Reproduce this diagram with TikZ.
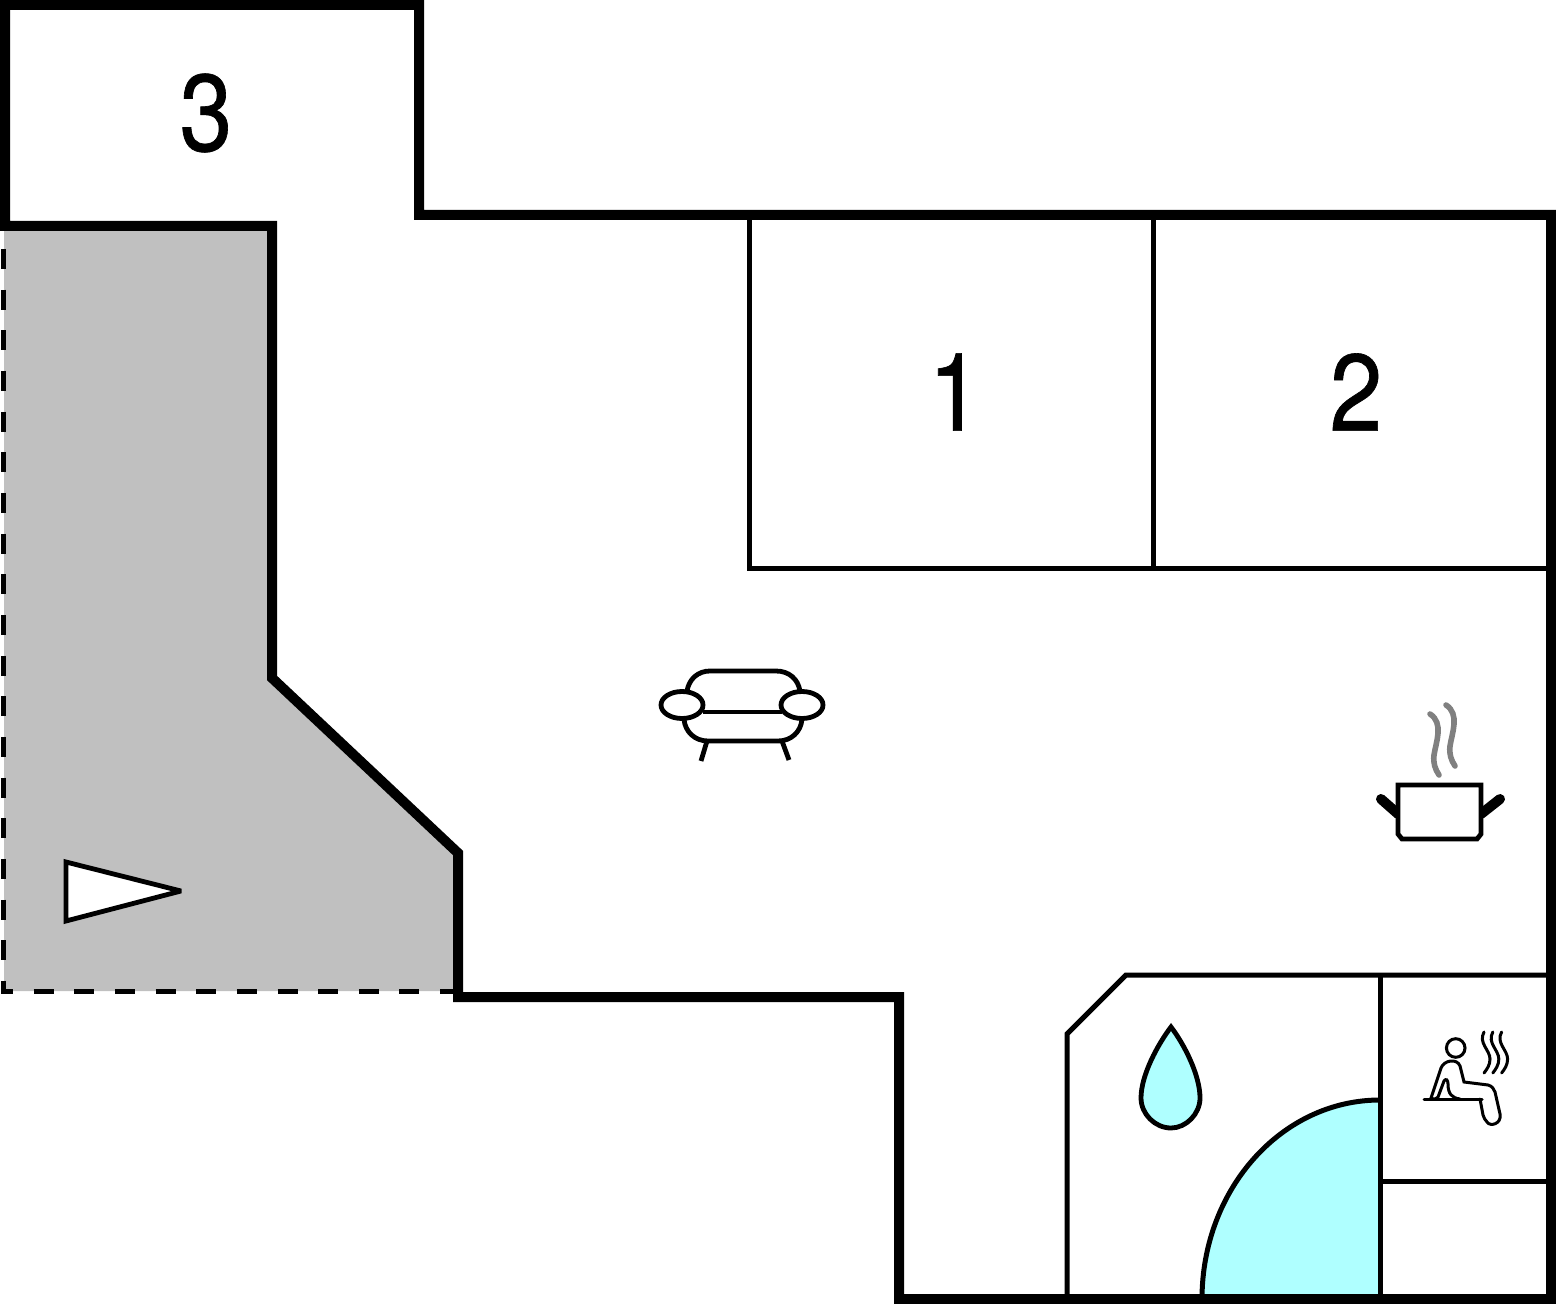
\documentclass[tikz,border=0pt]{standalone}
\usepackage{fontspec}
\setmainfont[FakeStretch=0.87, FakeBold=0.6]{TeX Gyre Heros}
\usepackage{xcolor}
\usetikzlibrary{positioning}
\definecolor{floorgray}{HTML}{C0C0C0}
\definecolor{watercyan}{HTML}{AFFFFF}
\definecolor{steamgray}{HTML}{808080}

\begin{document}
\begin{tikzpicture}[x=0.5pt, y=-0.5pt, line join=miter,
    outerwall/.style={line width=5pt},
    innerwall/.style={line width=2.5pt},
    icon/.style={line width=2.4pt},
    fineicon/.style={line width=1.5pt, line cap=round},
    steam/.style={line width=2.8pt, color=steamgray, line cap=round},
    roomnum/.style={font=\fontsize{54.5}{60}\selectfont, inner sep=0pt}]
  \useasboundingbox (0,0) rectangle (1556,1304);

  % terrace
  \fill[floorgray] (4,226) -- (272,226) -- (272,678) -- (458,853) -- (458,991) -- (4,991) -- cycle;
  \draw[line width=2.5pt, dash pattern=on 10pt off 10.33pt] (3,249) -- (3,991) -- (460,991);

  % bathroom water
  \fill[watercyan] (1202,1299) arc[start angle=180, end angle=270, x radius=178, y radius=199] -- (1380,1299) -- cycle;

  % inner walls
  \draw[innerwall] (749,215) -- (749,568) -- (1551,568);
  \draw[innerwall] (1153,215) -- (1153,568);
  \draw[innerwall] (1067,1299) -- (1067,1034) -- (1126,975) -- (1551,975);
  \draw[innerwall] (1380,975) -- (1380,1299);
  \draw[innerwall] (1202,1299) arc[start angle=180, end angle=270, x radius=178, y radius=199];
  \draw[innerwall] (1380,1181) -- (1551,1181);

  % outer wall
  \draw[outerwall] (5,5) -- (419,5) -- (419,215) -- (1551,215) -- (1551,1299) -- (899,1299)
    -- (899,997) -- (458,997) -- (458,853) -- (272,678) -- (272,226) -- (5,226) -- cycle;

  % room numbers
  \node[roomnum] (roomA) at (955,392) {1};
  \node[roomnum] (roomB) at (1356,392) {2};
  \node[roomnum] (roomC) at (206,113) {3};

  % entrance
  \draw[icon, fill=white, miter limit=3] (66,862) -- (181,891) -- (66,921) -- cycle;

  % sofa
  \draw[icon] (687,691) .. controls (689,679) and (698,671) .. (710,671) -- (776,671)
    .. controls (789,671) and (798,679) .. (800,691);
  \draw[icon] (684,719) .. controls (685,732) and (695,741) .. (708,741) -- (778,741)
    .. controls (791,741) and (801,732) .. (802,719);
  \draw[icon] (703,712) -- (782,712);
  \draw[icon] (707,741) -- (701,761);
  \draw[icon] (782,741) -- (789,760);
  \draw[icon] (682,705) ellipse[x radius=21, y radius=13.5];
  \draw[icon] (802,705) ellipse[x radius=21, y radius=13.5];

  % kitchen
  \draw[steam] (1430,714) .. controls (1444,723) and (1436,742) .. (1434,755) .. controls (1433,763) and (1435,769) .. (1439,775);
  \draw[steam] (1446,705) .. controls (1460,714) and (1452,733) .. (1450,746) .. controls (1449,754) and (1451,760) .. (1455,766);
  \draw[line width=5pt, line cap=round] (1398,814) -- (1381,799);
  \draw[line width=5pt, line cap=round] (1481,814) -- (1500,799);
  \draw[icon, fill=white] (1398,785) -- (1481,785) -- (1481,834) -- (1477,839) -- (1402,839) -- (1398,834) -- cycle;

  % shower
  \draw[icon, fill=watercyan] (1171,1027) .. controls (1158,1044) and (1141,1075) .. (1141,1098)
    .. controls (1141,1114) and (1155,1128) .. (1171,1128) .. controls (1186,1128) and (1200,1114) .. (1200,1098)
    .. controls (1200,1075) and (1184,1044) .. (1171,1027) -- cycle;

  % sauna
  \draw[fineicon] (1455.7,1048) circle[radius=9.3];
  \draw[fineicon] (1424,1099) -- (1482,1099);
  \draw[fineicon] (1431,1098) -- (1441,1068) .. controls (1444,1060) and (1457,1058) .. (1460,1066)
    -- (1464,1082) -- (1488,1085) .. controls (1492,1086) and (1494,1089) .. (1495,1092)
    -- (1500,1114) .. controls (1502,1124) and (1490,1127) .. (1487,1122) .. controls (1485,1120) and (1484,1118) .. (1483,1115) -- (1480,1099);
  \draw[fineicon] (1431,1098) .. controls (1434,1100) and (1437,1099) .. (1438,1097) -- (1444,1081)
    .. controls (1446,1078) and (1448,1080) .. (1448,1084) .. controls (1448,1094) and (1452,1098) .. (1460,1099);
  \foreach \dx in {0,8.8,17.6} {
    \draw[fineicon, xshift=\dx*0.5pt] (1484,1032) .. controls (1478,1043) and (1490,1050) .. (1490,1059)
      .. controls (1490,1065) and (1487,1069) .. (1484,1073);
  }
\end{tikzpicture}
\end{document}
